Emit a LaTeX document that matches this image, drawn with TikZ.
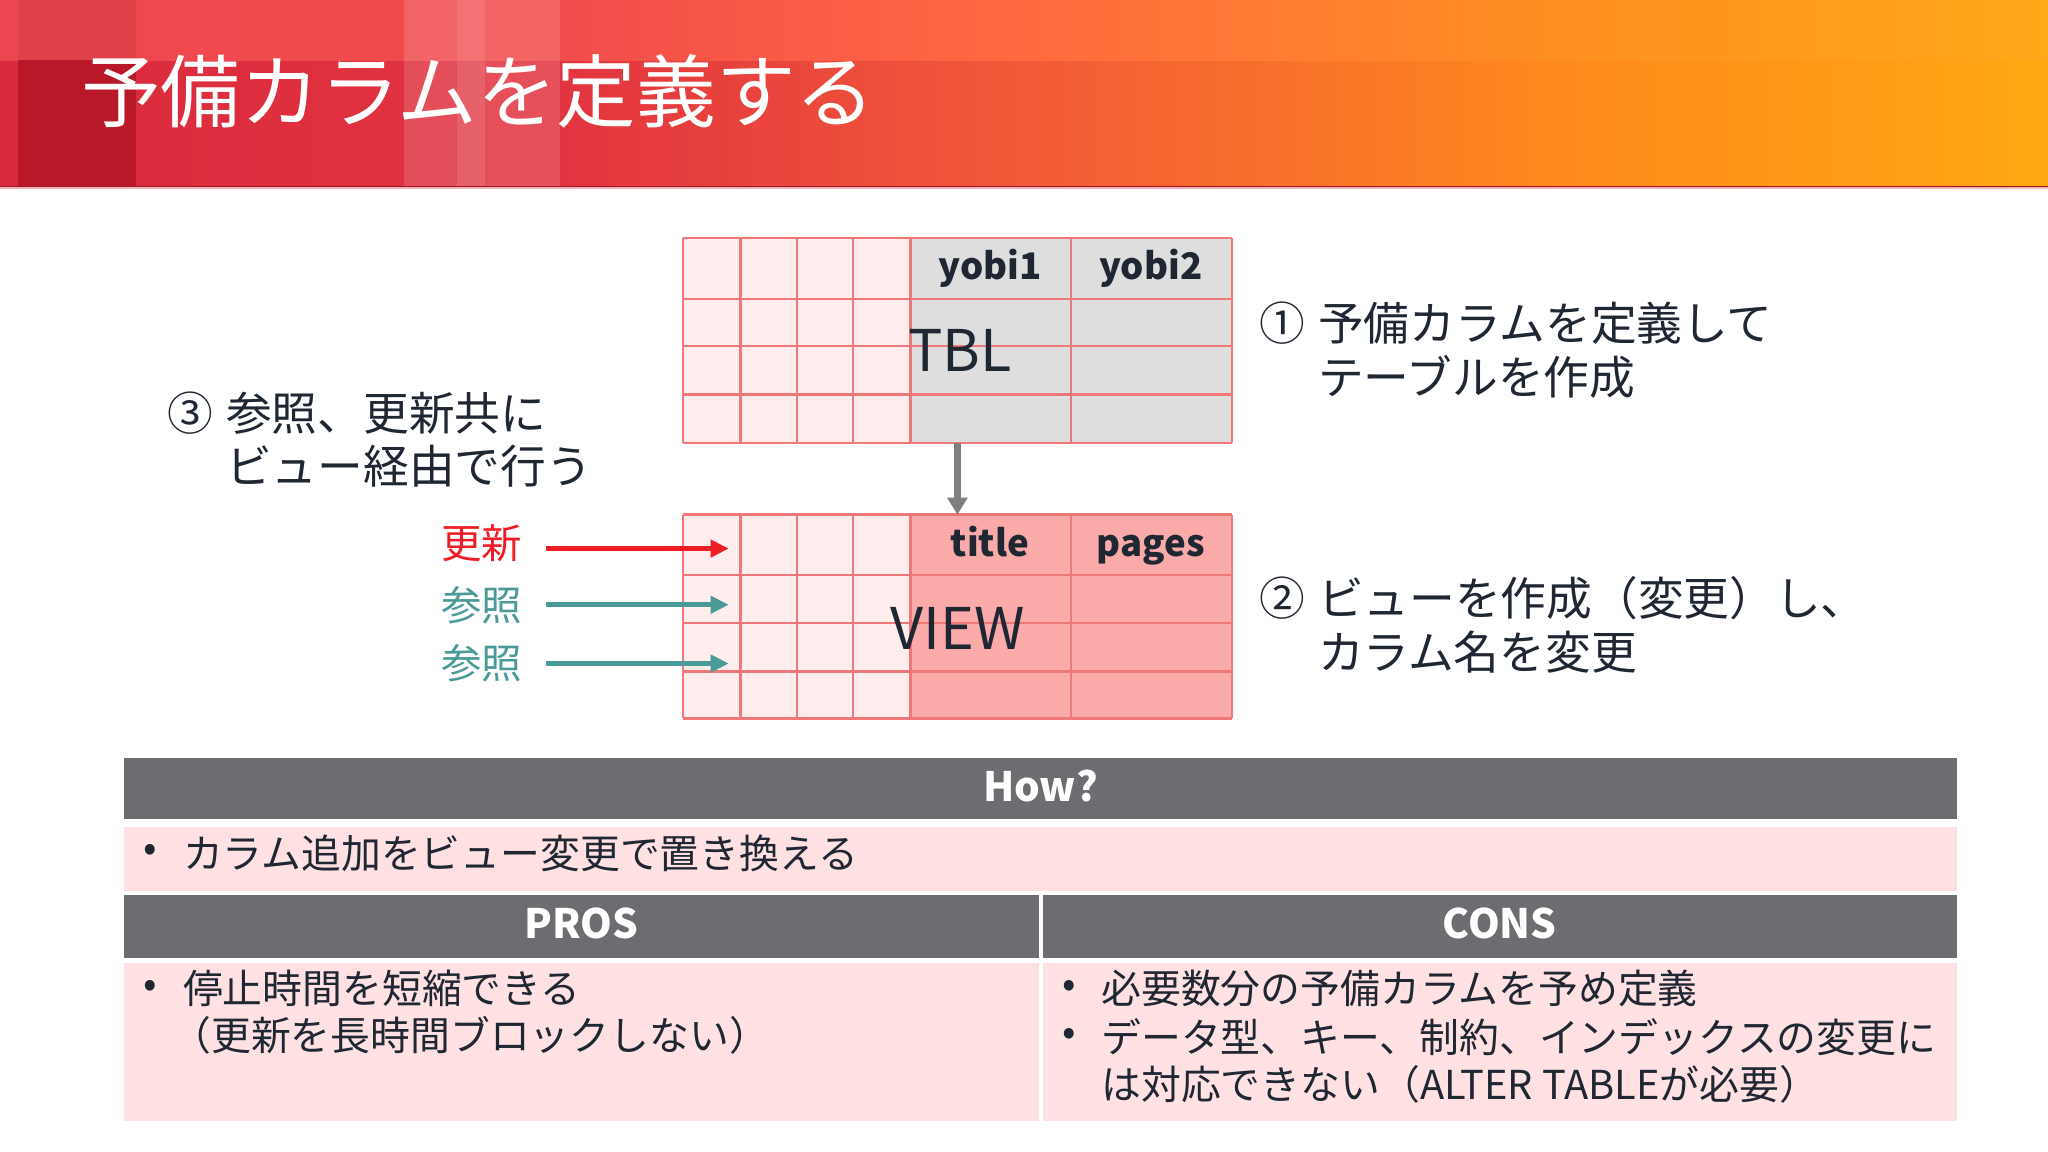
\documentclass[tikz,border=0pt]{standalone}
\usepackage{fontspec}
\setmainfont{Noto Sans CJK JP}
\usetikzlibrary{arrows.meta}
\definecolor{txtdark}{HTML}{1F2733}
\definecolor{gridred}{HTML}{F07878}
\definecolor{cellpink}{HTML}{FFEDED}
\definecolor{cellgray}{HTML}{DEDEDF}
\definecolor{viewpink}{HTML}{FBAAAA}
\definecolor{bargray}{HTML}{6D6C70}
\definecolor{rowpink}{HTML}{FFE1E4}
\definecolor{arrowgray}{HTML}{7F7F7F}
\definecolor{updred}{HTML}{EE1C24}
\definecolor{refteal}{HTML}{4A9A98}
\definecolor{hT0}{HTML}{EE4650}
\definecolor{hT1}{HTML}{F24C4C}
\definecolor{hT2}{HTML}{FF6A40}
\definecolor{hT3}{HTML}{FF9020}
\definecolor{hT4}{HTML}{FFA818}
\definecolor{hL0}{HTML}{D82A3C}
\definecolor{hL1}{HTML}{E23440}
\definecolor{hL2}{HTML}{F25A38}
\definecolor{hL3}{HTML}{FF8A1C}
\definecolor{hL4}{HTML}{FFA812}
\definecolor{hdark}{HTML}{B81828}
\tikzset{
  body/.style={font=\fontsize{30.5}{36.5}\selectfont, text=txtdark, inner sep=0, anchor=west},
  bul/.style={font=\fontsize{30.5}{36.5}\selectfont, text=txtdark, inner sep=0},
  midtxt/.style={font=\fontsize{35}{41}\selectfont, text=txtdark, inner sep=0, anchor=west, align=left},
  colhdr/.style={font=\fontsize{28}{32}\selectfont\bfseries, text=txtdark, inner sep=0, anchor=base},
  bigtxt/.style={font=\fontsize{44}{50}\selectfont, text=txtdark, inner sep=0},
  bartxt/.style={font=\fontsize{31}{36}\selectfont\bfseries, text=white},
  barbox/.style={fill=bargray, inner sep=0, anchor=north west},
  rowbox/.style={fill=rowpink, inner sep=0, anchor=north west},
  areabox/.style={inner sep=0, anchor=north west, minimum width=420, minimum height=157},
  gridline/.style={draw=gridred, line width=1.8},
  grayarrow/.style={draw=arrowgray, line width=5, -{Triangle[length=13,width=15]}},
  updarrow/.style={draw=updred, line width=3.8, -{Triangle[length=14,width=13]}},
  refarrow/.style={draw=refteal, line width=3.8, -{Triangle[length=14,width=13]}},
  sidelbl/.style={font=\fontsize{31}{36}\selectfont, inner sep=0, anchor=east},
}
\begin{document}
\begin{tikzpicture}[x=1pt,y=-1pt]
\useasboundingbox (0,0) rectangle (1568,882);
\fill[white] (0,0) rectangle (1568,882);
% header background
\shade[left color=hL0, right color=hL1] (0,46) rectangle (430.5,143);
\shade[left color=hL1, right color=hL2] (430,46) rectangle (784.5,143);
\shade[left color=hL2, right color=hL3] (784,46) rectangle (1200.5,143);
\shade[left color=hL3, right color=hL4] (1200,46) rectangle (1568,143);
\shade[left color=hT0, right color=hT1] (0,0) rectangle (430.5,46);
\shade[left color=hT1, right color=hT2] (430,0) rectangle (784.5,46);
\shade[left color=hT2, right color=hT3] (784,0) rectangle (1200.5,46);
\shade[left color=hT3, right color=hT4] (1200,0) rectangle (1568,46);
\fill[hdark] (14,46) rectangle (104,143);
\fill[black, opacity=0.06] (14,0) rectangle (104,46);
\fill[white, opacity=0.14] (309,0) rectangle (429,143);
\fill[white, opacity=0.10] (350,0) rectangle (371,143);
\draw[line width=0.8, color=hdark!85!black] (0,142.6) -- (1568,142.6);
\draw[line width=1.2, color=hL0!35] (0,144) -- (1568,144);
\node[anchor=west, inner sep=0, text=white, font=\fontsize{61}{70}\selectfont] (title) at (62,70) {予備カラムを定義する};

% TBL table
\fill[cellpink] (523,182) rectangle (697,339);
\fill[cellgray] (697,182) rectangle (943,339);
\foreach \gx in {523,567,610,653,697,820,943} \draw[gridline] (\gx,182) -- (\gx,339);
\foreach \gy in {182,229,265,302,339} \draw[gridline] (523,\gy) -- (943,\gy);
\node[areabox] (tbl) at (523,182) {};
\node[colhdr] (yobi1) at (758,214) {yobi1};
\node[colhdr] (yobi2) at (881,214) {yobi2};
\node[bigtxt] (tbllbl) at (735,268) {TBL};

% VIEW table
\fill[cellpink] (523,394) rectangle (697,550);
\fill[viewpink] (697,394) rectangle (943,550);
\foreach \gx in {523,567,610,653,697,820,943} \draw[gridline] (\gx,394) -- (\gx,550);
\foreach \gy in {394,440,477,514,550} \draw[gridline] (523,\gy) -- (943,\gy);
\node[areabox, minimum height=156] (view) at (523,394) {};
\node[colhdr] (ctitle) at (758,426) {title};
\node[colhdr] (cpages) at (881,426) {pages};
\node[bigtxt] (viewlbl) at (733,481) {VIEW};

% TBL -> VIEW
\coordinate (ax) at (733,0);
\draw[grayarrow] (tbl.south -| ax) -- (view.north -| ax);

% side labels and arrows
\node[sidelbl, text=updred] (lupd) at (400,416) {更新};
\node[sidelbl, text=refteal] (lref1) at (400,463) {参照};
\node[sidelbl, text=refteal] (lref2) at (400,508) {参照};
\coordinate (s1) at (418,420); \coordinate (e1) at (558,420);
\coordinate (s2) at (418,463); \coordinate (e2) at (558,463);
\coordinate (s3) at (418,508); \coordinate (e3) at (558,508);
\draw[updarrow] (s1) -- (e1);
\draw[refarrow] (s2) -- (e2);
\draw[refarrow] (s3) -- (e3);

% explanations
\node[midtxt] (step3) at (128,336.5) {③\hspace{10pt}参照、更新共に\\\hphantom{③\hspace{10pt}}ビュー経由で行う};
\node[midtxt] (step1) at (964,268) {①\hspace{10pt}予備カラムを定義して\\\hphantom{①\hspace{10pt}}テーブルを作成};
\node[midtxt] (step2) at (964,478.5) {②\hspace{10pt}ビューを作成（変更）し、\\\hphantom{②\hspace{10pt}}カラム名を変更};

% bottom table
\node[barbox, minimum width=1403, minimum height=47] (how) at (95,580) {};
\node[bartxt] (howtxt) at ([yshift=2]how.center) {How?};
\node[rowbox, minimum width=1403, minimum height=49] (howrow) at (95,633) {};
\node[bul] (b0) at (115,653) {•};
\node[body] (howline) at (140,653) {カラム追加をビュー変更で置き換える};
\node[barbox, minimum width=700, minimum height=48] (pros) at (95,685) {};
\node[barbox, minimum width=700, minimum height=48] (cons) at (798,685) {};
\node[bartxt] (prostxt) at ([yshift=2]pros.center) {PROS};
\node[bartxt] (constxt) at ([yshift=2]cons.center) {CONS};
\node[rowbox, minimum width=700, minimum height=121] (prosbody) at (95,737) {};
\node[rowbox, minimum width=700, minimum height=121] (consbody) at (798,737) {};
\node[bul] (b1) at (115,757) {•};
\node[body] (p1) at (140,757) {停止時間を短縮できる};
\node[body] (p2) at (131,793) {（更新を長時間ブロックしない）};
\node[bul] (b2) at (819,757) {•};
\node[body] (c1) at (843,757) {必要数分の予備カラムを予め定義};
\node[bul] (b3) at (819,794) {•};
\node[body] (c2) at (843,794) {データ型、キー、制約、インデックスの変更に};
\node[body] (c3) at (843,830) {は対応できない（ALTER TABLEが必要）};
\end{tikzpicture}
\end{document}
